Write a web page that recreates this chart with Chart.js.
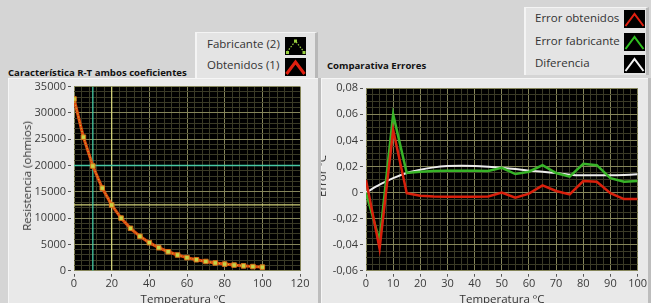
<!DOCTYPE html>
<html><head><meta charset="utf-8">
<script src="https://cdn.jsdelivr.net/npm/chart.js@4.4.1/dist/chart.umd.min.js"></script>
<style>
html,body{margin:0;padding:0;width:651px;height:303px;overflow:hidden;background:#d5d5d5;font-family:"Open Sans","Noto Sans",sans-serif;}
.panel{position:absolute;background:#e9e9e9;overflow:hidden;}
#pL{left:8px;top:78px;width:310px;height:225px;box-shadow:inset 1px 1px 0 #f6f6f6;}
#pR{left:321px;top:78px;width:327px;height:225px;box-shadow:inset 1px 1px 0 #f6f6f6;}
#sep{position:absolute;left:318px;top:78px;width:3px;height:225px;background:#bdbdbd;}
#edge{position:absolute;left:648px;top:78px;width:3px;height:225px;background:#bdbdbd;}
canvas{position:absolute;left:0;top:0;}
.ctitle{position:absolute;font-weight:bold;font-size:9.6px;color:#111;white-space:nowrap;line-height:12px;}
.legend{position:absolute;background:#e4e4e4;border-left:2px solid #f4f4f4;border-top:1px solid #f4f4f4;border-right:3px solid #b8b8b8;}
.lrow{position:absolute;font-size:11.5px;color:#333;white-space:nowrap;line-height:14px;}
.icon{position:absolute;}
.ytitle{position:absolute;font-size:11.5px;color:#333;white-space:nowrap;line-height:14px;transform:translate(-50%,-50%) rotate(-90deg);}
.xtitle{position:absolute;font-size:11.5px;color:#333;white-space:nowrap;line-height:14px;transform:translateX(-50%);}
</style></head>
<body>
<div class="legend" style="left:195px;top:32px;width:118px;height:45px;">
  <div class="lrow" style="left:10px;top:4px;">Fabricante (2)</div>
  <svg class="icon" style="left:88px;top:4px;" width="21" height="18"><rect width="21" height="18" fill="#000"/><polyline points="2,15 10.5,4 19,15" fill="none" stroke="#9ad040" stroke-width="1.2" stroke-dasharray="1.5,1.5"/><rect x="1" y="14" width="3" height="3" fill="#9ad040"/><rect x="9" y="2.5" width="3" height="3" fill="#9ad040"/><rect x="17.5" y="14" width="3" height="3" fill="#9ad040"/></svg>
  <div class="lrow" style="left:10px;top:25px;">Obtenidos (1)</div>
  <svg class="icon" style="left:88px;top:25px;" width="21" height="18"><rect width="21" height="18" fill="#000"/><polyline points="1.5,16 10.5,4 19.5,16" fill="none" stroke="#e02010" stroke-width="3"/></svg>
</div>
<div class="ctitle" style="left:8px;top:67px;">Característica R-T ambos coeficientes</div>
<div class="legend" style="left:524px;top:7px;width:120px;height:67px;">
  <div class="lrow" style="left:9px;top:3px;">Error obtenidos</div>
  <svg class="icon" style="left:98px;top:2px;" width="21" height="18"><rect width="21" height="18" fill="#000"/><polyline points="1.5,16 10.5,4 19.5,16" fill="none" stroke="#e02010" stroke-width="2"/></svg>
  <div class="lrow" style="left:9px;top:26px;">Error fabricante</div>
  <svg class="icon" style="left:98px;top:25px;" width="21" height="18"><rect width="21" height="18" fill="#000"/><polyline points="1.5,16 10.5,4 19.5,16" fill="none" stroke="#30c020" stroke-width="2"/></svg>
  <div class="lrow" style="left:9px;top:48px;">Diferencia</div>
  <svg class="icon" style="left:98px;top:47px;" width="21" height="18"><rect width="21" height="18" fill="#000"/><polyline points="1.5,16 10.5,4 19.5,16" fill="none" stroke="#f4f4f4" stroke-width="2"/></svg>
</div>
<div class="ctitle" style="left:327px;top:60px;">Comparativa Errores</div>

<div id="pL" class="panel"><canvas id="cL" width="310" height="225"></canvas>
  <div class="ytitle" style="left:19px;top:98px;">Resistencia (ohmios)</div>
  <div class="xtitle" style="left:175px;top:214px;">Temperatura ºC</div>
</div>
<div id="sep"></div>
<div id="pR" class="panel"><canvas id="cR" width="327" height="225"></canvas>
  <div class="ytitle" style="left:1px;top:98px;">Error ºC</div>
  <div class="xtitle" style="left:181px;top:214px;">Temperatura ºC</div>
</div>
<div id="edge"></div>

<script>
// ---------- data ----------
const temps = [0,5,10,15,20,25,30,35,40,45,50,55,60,65,70,75,80,85,90,95,100];
const resFabricante = [32650,25390,19900,15710,12490,10000,8057,6530,5327,4370,3603,2986,2488,2083,1752,1481,1258,1072,918,789,680];
const resObtenidos  = [32650,25390,19900,15710,12490,10000,8057,6530,5327,4370,3603,2986,2488,2083,1752,1481,1258,1072,918,789,680];
const cursorT = [10, 20];
const cursorR = [20000, 12500];
const errObtenidos  = [0.0096,-0.043,0.048,-0.0005,-0.0025,-0.003,-0.0032,-0.0033,-0.0033,-0.003,0.0,-0.004,-0.0008,0.0055,0.0012,-0.0015,0.0088,0.0082,-0.0005,-0.005,-0.005];
const errFabricante = [0.0,-0.037,0.06,0.015,0.016,0.0165,0.0168,0.0168,0.0168,0.0165,0.019,0.0142,0.016,0.021,0.015,0.0122,0.022,0.021,0.011,0.0083,0.0088];
const errDiferencia = [0.0,0.006,0.011,0.015,0.0175,0.0193,0.0203,0.0206,0.0204,0.0198,0.019,0.018,0.0168,0.016,0.015,0.0137,0.0132,0.0132,0.0133,0.0135,0.014];
// axis tick labels
const leftXLabels = [0,20,40,60,80,100,120];
const leftYLabels = [0,5000,10000,15000,20000,25000,30000,35000];
const rightXLabels = [0,10,20,30,40,50,60,70,80,90,100];
const rightYLabels = [-0.06,-0.04,-0.02,0,0.02,0.04,0.06,0.08];

// ---------- styling helpers ----------
const MAJOR = '#85855a', MINOR = '#3a3a26', TICK = '#555';
Chart.defaults.font.family = '"Open Sans","Noto Sans",sans-serif';
Chart.defaults.font.size = 11;
Chart.defaults.color = '#3a3a3a';

function minorTicks(majors, sub){
  const out = [];
  for (let i=0;i<majors.length-1;i++){
    const a=majors[i], b=majors[i+1];
    for (let k=0;k<sub;k++) out.push({value: a + (b-a)*k/sub, major:k===0, mi:i});
  }
  out.push({value: majors[majors.length-1], major:true, mi:majors.length-1});
  return out;
}
function axis(majors, sub, fmt, isY, fitSize){
  const list = minorTicks(majors, sub);
  return {
    type:'linear',
    min: majors[0], max: majors[majors.length-1],
    afterBuildTicks: s => { s.ticks = list.map(t=>({value:t.value})); },
    afterFit: s => { if (isY) s.width = fitSize; else s.height = fitSize; },
    border:{display:false},
    grid:{
      color: c => (list[c.index] && list[c.index].major) ? MAJOR : MINOR,
      lineWidth:1,
      drawTicks:true,
      tickLength:6,
      tickColor: c => (list[c.index] && list[c.index].major) ? TICK : 'rgba(0,0,0,0)',
      tickBorderDash:[3,3],
      tickBorderDashOffset: isY ? 0 : 3
    },
    ticks:{
      autoSkip:false, maxRotation:0, padding: isY ? 2 : 1,
      callback: (v,i) => (list[i] && list[i].major) ? fmt(majors[list[i].mi]) : ''
    }
  };
}
const blackBg = {
  id:'blackBg',
  beforeDraw(chart){
    const a = chart.chartArea, ctx = chart.ctx;
    ctx.save(); ctx.fillStyle='#000'; ctx.fillRect(a.left,a.top,a.right-a.left,a.bottom-a.top); ctx.restore();
  }
};

// ---------- left chart ----------
const yMinL = leftYLabels[0], yMaxL = leftYLabels[leftYLabels.length-1];
const xMinL = leftXLabels[0], xMaxL = leftXLabels[leftXLabels.length-1];
const cursorColors = ['#46c8a4', '#d0d078'];
const cursorSets = [];
cursorT.forEach((t,i)=>{
  cursorSets.push({label:'Cursor '+(i+1)+' T', data:[{x:t,y:yMinL},{x:t,y:yMaxL}], borderColor:cursorColors[i], borderWidth:1.3, pointRadius:0, order:3+i});
  cursorSets.push({label:'Cursor '+(i+1)+' R', data:[{x:xMinL,y:cursorR[i]},{x:xMaxL,y:cursorR[i]}], borderColor:cursorColors[i], borderWidth:1.3, pointRadius:0, order:3+i});
});
new Chart(document.getElementById('cL'), {
  type:'line',
  data:{datasets:[
    {label:'Fabricante (2)', data: temps.map((t,i)=>({x:t,y:resFabricante[i]})), borderColor:'#b8d840', borderWidth:1, borderDash:[1,2],
     pointStyle:'rect', pointRadius:3.2, pointBackgroundColor:'#c4d448', pointBorderColor:'#d87018', pointBorderWidth:1, order:0},
    {label:'Obtenidos (1)', data: temps.map((t,i)=>({x:t,y:resObtenidos[i]})), borderColor:'#e0480e', borderWidth:3, pointRadius:0, order:1},
    ...cursorSets
  ]},
  options:{
    responsive:false, animation:false,
    layout:{padding:{left:0,top:8,right:18,bottom:0}},
    plugins:{legend:{display:false}, tooltip:{enabled:false}},
    scales:{
      x: axis(leftXLabels, 5, v=>String(v), false, 32.3),
      y: axis(leftYLabels, 5, v=>String(v), true, 66)
    }
  },
  plugins:[blackBg]
});

// ---------- right chart ----------
const fmtR = v => { const r = Math.round(v*100)/100; return r===0 ? '0' : r.toFixed(2).replace('.',','); };
new Chart(document.getElementById('cR'), {
  type:'line',
  data:{datasets:[
    {label:'Error obtenidos', data: temps.map((t,i)=>({x:t,y:errObtenidos[i]})), borderColor:'#d8200c', borderWidth:2.5, pointRadius:0, order:0},
    {label:'Error fabricante', data: temps.map((t,i)=>({x:t,y:errFabricante[i]})), borderColor:'#38b428', borderWidth:2.5, pointRadius:0, order:1},
    {label:'Diferencia', data: temps.map((t,i)=>({x:t,y:errDiferencia[i]})), borderColor:'#ececec', borderWidth:2, pointRadius:0, tension:0.3, order:2}
  ]},
  options:{
    responsive:false, animation:false,
    layout:{padding:{left:0,top:10.3,right:8.7,bottom:0}},
    plugins:{legend:{display:false}, tooltip:{enabled:false}},
    scales:{
      x: axis(rightXLabels, 4, v=>String(v), false, 32.3),
      y: axis(rightYLabels, 4, fmtR, true, 45)
    }
  },
  plugins:[blackBg]
});
</script>
</body></html>
